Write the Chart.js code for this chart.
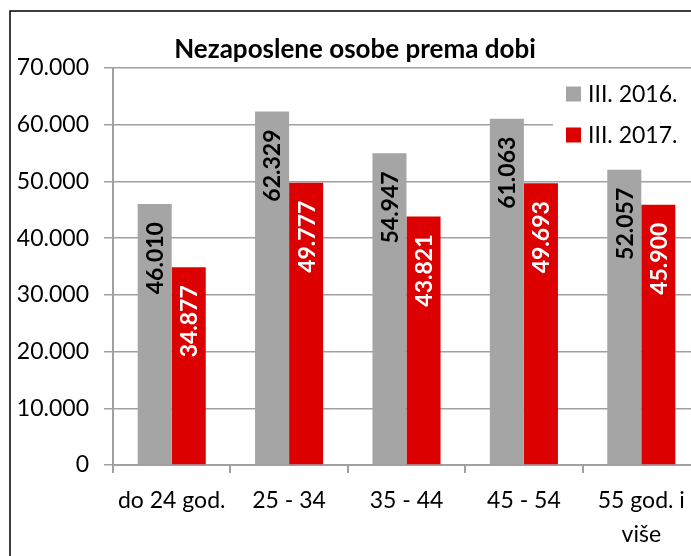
<!DOCTYPE html>
<html>
<head>
<meta charset="utf-8">
<script src="https://cdn.jsdelivr.net/npm/chart.js@4.4.1/dist/chart.umd.min.js"></script>
<style>
    html, body { margin: 0; padding: 0; background: #fff; overflow: hidden; }
    #wrap { position: relative; width: 691px; height: 556px; overflow: hidden; }
    canvas { position: absolute; left: 0; top: 0; }
</style>
</head>
<body>
<div id="wrap">
    <canvas id="chart" width="710" height="556"></canvas>
</div>
<script>
// =========================================
// Data
// =========================================
const categories = ["do 24 god.", "25 - 34", "35 - 44", "45 - 54", ["55 god. i", "više"]];
const values2016 = [46010, 62329, 54947, 61063, 52057];
const values2017 = [34877, 49777, 43821, 49693, 45900];
const seriesLabels = ["III. 2016.", "III. 2017."];
const yTicks = [0, 10000, 20000, 30000, 40000, 50000, 60000, 70000];
const chartTitle = "Nezaposlene osobe prema dobi";

const GRAY = "#a5a5a5";
const RED = "#dd0000";
const GRID = "#a0a0a0";
const FONT = "Lato, 'Open Sans', sans-serif";

function fmt(v) {
    return String(v).replace(/\B(?=(\d{3})+(?!\d))/g, ".");
}

// =========================================
// Plugin: frame, title, legend, bar values
// =========================================
const decorPlugin = {
    id: "decor",
    beforeDraw(chart) {
        const ctx = chart.ctx;
        ctx.save();
        ctx.fillStyle = "#fff";
        ctx.fillRect(0, 0, chart.width, chart.height);
        ctx.restore();
    },
    afterDatasetsDraw(chart) {
        const ctx = chart.ctx;
        ctx.save();
        // value labels rotated inside bars
        chart.data.datasets.forEach((ds, di) => {
            const meta = chart.getDatasetMeta(di);
            meta.data.forEach((bar, i) => {
                ctx.save();
                ctx.translate(bar.x, bar.y + 18);
                ctx.rotate(-Math.PI / 2);
                ctx.font = "bold 23px " + FONT;
                ctx.fillStyle = di === 0 ? "#000" : "#fff";
                ctx.textAlign = "right";
                ctx.textBaseline = "middle";
                ctx.fillText(fmt(ds.data[i]), 0, 1);
                ctx.restore();
            });
        });
        ctx.restore();
    },
    afterDraw(chart) {
        const ctx = chart.ctx;
        ctx.save();
        // outer frame (left and top edges visible)
        ctx.strokeStyle = "#000";
        ctx.lineWidth = 1.5;
        ctx.beginPath();
        ctx.moveTo(10, chart.height + 2);
        ctx.lineTo(10, 11);
        ctx.lineTo(chart.width + 2, 11);
        ctx.stroke();

        // title
        ctx.fillStyle = "#000";
        ctx.font = "bold 26px " + FONT;
        ctx.textAlign = "center";
        ctx.textBaseline = "alphabetic";
        ctx.fillText(chartTitle, 355, 58);

        // legend
        ctx.fillStyle = "#fff";
        ctx.fillRect(553, 72, 200, 96);
        const colors = [GRAY, RED];
        ctx.font = "23px " + FONT;
        ctx.textAlign = "left";
        ctx.textBaseline = "middle";
        seriesLabels.forEach((lbl, i) => {
            const cy = 94 + i * 41;
            ctx.fillStyle = colors[i];
            ctx.fillRect(566, cy - 7.5, 15, 15);
            ctx.fillStyle = "#000";
            ctx.fillText(lbl, 588, cy + 1);
        });
        ctx.restore();
    }
};

// =========================================
// Chart
// =========================================
new Chart(document.getElementById("chart"), {
    type: "bar",
    data: {
        labels: categories,
        datasets: [
            {
                label: seriesLabels[0],
                data: values2016,
                backgroundColor: GRAY,
                borderWidth: 0,
                barPercentage: 1,
                categoryPercentage: 0.58,
            },
            {
                label: seriesLabels[1],
                data: values2017,
                backgroundColor: RED,
                borderWidth: 0,
                barPercentage: 1,
                categoryPercentage: 0.58,
            },
        ],
    },
    options: {
        responsive: false,
        animation: false,
        devicePixelRatio: 1,
        layout: {
            padding: { left: 0, top: 68, right: 10, bottom: 0 },
        },
        scales: {
            y: {
                min: 0,
                max: 70000,
                afterFit: (scale) => { scale.width = 113; },
                afterBuildTicks: (scale) => {
                    scale.ticks = yTicks.map((v) => ({ value: v }));
                },
                ticks: {
                    padding: 15,
                    color: "#000",
                    font: { family: FONT, size: 23 },
                    callback: (v) => fmt(v),
                },
                grid: {
                    color: GRID,
                    lineWidth: 1.5,
                    tickLength: 9,
                },
                border: { display: true, color: GRID, width: 2 },
            },
            x: {
                afterFit: (scale) => { scale.height = 91; },
                ticks: {
                    padding: 11,
                    color: "#000",
                    maxRotation: 0,
                    autoSkip: false,
                    font: { family: FONT, size: 23, lineHeight: "34px" },
                },
                grid: {
                    offset: true,
                    drawOnChartArea: false,
                    color: GRID,
                    lineWidth: 2,
                    tickLength: 8,
                },
                border: { display: true, color: GRID, width: 2 },
            },
        },
        plugins: {
            legend: { display: false },
            title: { display: false },
            tooltip: { enabled: false },
        },
    },
    plugins: [decorPlugin],
});
</script>
</body>
</html>
